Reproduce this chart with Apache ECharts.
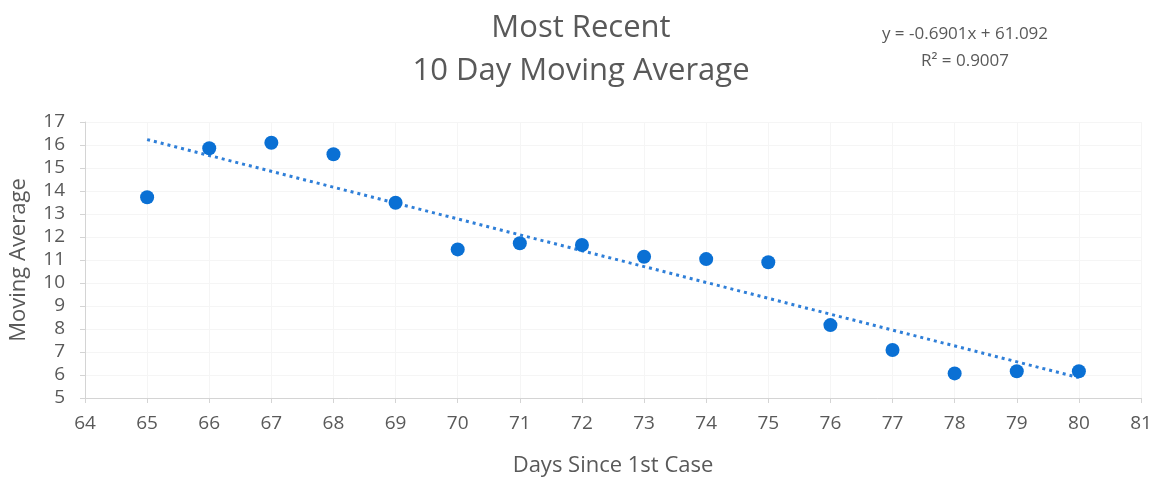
<!DOCTYPE html>
<html>
<head>
<meta charset="utf-8">
<script src="https://cdn.jsdelivr.net/npm/echarts@6/dist/echarts.min.js"></script>
<style>
  html, body { margin: 0; padding: 0; background: #fff; }
  #chart { width: 1159px; height: 491px; }
</style>
</head>
<body>
<div id="chart"></div>
<script>
// data
const days = [65, 66, 67, 68, 69, 70, 71, 72, 73, 74, 75, 76, 77, 78, 79, 80];
const movingAvg = [13.73, 15.86, 16.1, 15.6, 13.49, 11.46, 11.73, 11.65, 11.14, 11.04, 10.9, 8.17, 7.09, 6.07, 6.16, 6.16];
// trendline as printed on the chart
const slope = -0.6901;
const intercept = 61.092;
const r2 = 0.9007;
const titleLines = ['Most Recent', '10 Day Moving Average'];

const myChart = echarts.init(document.getElementById('chart'));

const points = days.map((d, i) => [d, movingAvg[i]]);
const trendX = [days[0], days[days.length - 1]];
const trend = trendX.map(x => [x, slope * x + intercept]);

const gray = '#595959';

const option = {
  backgroundColor: '#fff',
  textStyle: { fontFamily: '"Open Sans", sans-serif' },
  title: [
    {
      text: titleLines.join('\n'),
      left: 576,
      top: 2,
      textAlign: 'center',
      textStyle: { fontSize: 31, fontWeight: 'normal', color: gray, lineHeight: 43, fontFamily: 'Open Sans' }
    },
    {
      text: 'y = ' + slope + 'x + ' + intercept + '\nR² = ' + r2,
      left: 960,
      top: 16,
      textAlign: 'center',
      textStyle: { fontSize: 17, fontWeight: 'normal', color: gray, lineHeight: 27, fontFamily: 'Open Sans' }
    }
  ],
  grid: { left: 83, right: 18, top: 122, bottom: 93 },
  xAxis: {
    type: 'value',
    min: 64,
    max: 81,
    interval: 1,
    name: 'Days Since 1st Case',
    nameLocation: 'middle',
    nameGap: 57,
    nameTextStyle: { fontSize: 22, color: gray },
    axisLine: { show: true, lineStyle: { color: '#d4d4d4' } },
    axisTick: { show: true, length: 5, lineStyle: { color: '#d4d4d4' } },
    axisLabel: { fontSize: 19, color: gray, margin: 16 },
    splitLine: { show: true, lineStyle: { color: '#f5f5f5' } }
  },
  yAxis: {
    type: 'value',
    min: 5,
    max: 17,
    interval: 1,
    name: 'Moving Average',
    nameLocation: 'middle',
    nameGap: 55,
    nameTextStyle: { fontSize: 22, color: gray },
    axisLine: { show: true, lineStyle: { color: '#d4d4d4' } },
    axisTick: { show: true, length: 5, lineStyle: { color: '#d4d4d4' } },
    axisLabel: { fontSize: 19, color: gray, margin: 20 },
    splitLine: { show: true, lineStyle: { color: '#f5f5f5' } }
  },
  series: [
    {
      type: 'line',
      data: trend,
      showSymbol: false,
      symbol: 'none',
      lineStyle: { color: '#2f7fd8', width: 3, type: [3, 4] },
      z: 1,
      silent: true
    },
    {
      type: 'scatter',
      data: points,
      symbolSize: 14,
      itemStyle: { color: '#0a70d4', opacity: 1 },
      z: 2
    }
  ]
};

myChart.setOption(option);
window.addEventListener('resize', function () {
  myChart.resize();
});
</script>
</body>
</html>
